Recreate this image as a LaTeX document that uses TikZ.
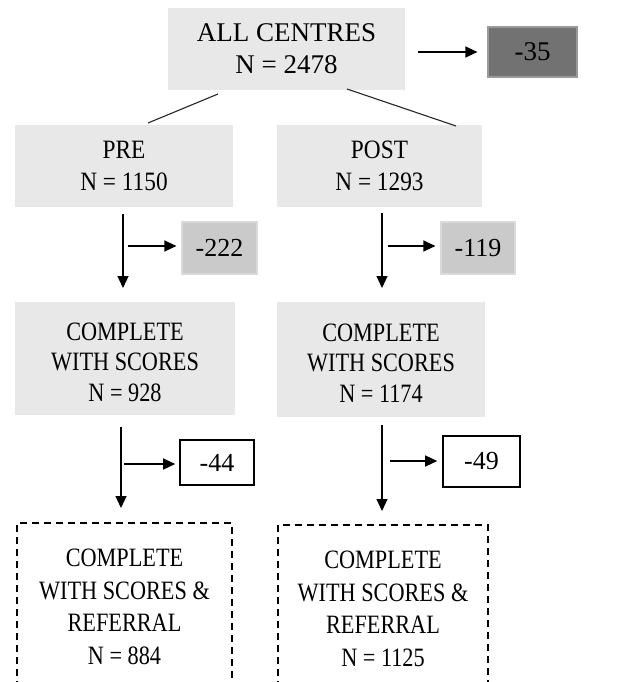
\documentclass[tikz,border=0pt]{standalone}
\usepackage{fontspec}
\setmainfont{Liberation Serif}
\newfontfamily\condtwo[FakeStretch=0.88]{Liberation Serif}
\newfontfamily\condthree[FakeStretch=0.84]{Liberation Serif}
\usetikzlibrary{arrows.meta,calc}
\definecolor{boxgrey}{HTML}{E8E8E8}
\definecolor{darkbox}{HTML}{727272}
\definecolor{darkedge}{HTML}{9A9A9A}
\definecolor{midbox}{HTML}{CACACA}
\definecolor{midedge}{HTML}{DADADA}
\tikzset{
  x=1pt,y=-1pt,
  txt/.style={font=\fontsize{27}{32}\selectfont, align=center, inner sep=0pt, text=black},
  rowtwo/.style={font=\condtwo\fontsize{26.5}{32}\selectfont},
  rowthree/.style={font=\condthree\fontsize{26.5}{30.5}\selectfont},
  rowfour/.style={font=\condthree\fontsize{26.5}{32.5}\selectfont},
  numtxt/.style={font=\fontsize{26}{30}\selectfont},
  greybox/.style={txt, fill=boxgrey, draw=none},
  darkgrey/.style={txt, fill=darkbox, draw=darkedge, line width=1.2pt},
  midgrey/.style={txt, numtxt, fill=midbox, draw=midedge, line width=1.2pt},
  whitebox/.style={txt, numtxt, fill=white, draw=black, line width=1.6pt},
  dashbox/.style={draw=black, line width=1.6pt, dash pattern=on 7pt off 5pt},
  arr/.style={line width=1.3pt, -{Triangle[length=12pt,width=11pt]}},
  thin/.style={line width=1.1pt, draw=black!85},
}
\begin{document}
\begin{tikzpicture}
\useasboundingbox (0,0) rectangle (627,682);
\clip (0,0) rectangle (627,682);
\fill[white] (0,0) rectangle (627,682);

% top
\node[greybox, minimum width=237pt, minimum height=82pt] (all) at (286.5,49) {ALL CENTRES\\N = 2478};
\node[darkgrey, minimum width=89pt, minimum height=50pt] (m35) at (532.5,52) {-35};
\coordinate (a35) at (418,52);
\draw[arr] (a35) -- ($(a35 -| m35.west)+(-10,0)$);

% second row
\node[greybox, rowtwo, minimum width=218pt, minimum height=82pt] (pre) at (124,166) {PRE\\N = 1150};
\node[greybox, rowtwo, minimum width=205pt, minimum height=82pt] (post) at (379.5,166) {POST\\N = 1293};
\coordinate (l1) at (218,94);
\coordinate (l2) at (148,123);
\coordinate (r1) at (347,89);
\coordinate (r2) at (456,126);
\draw[thin] (l1) -- (l2);
\draw[thin] (r1) -- (r2);

\node[midgrey, minimum width=75pt, minimum height=52pt] (m222) at (219.5,248) {-222};
\node[midgrey, minimum width=74pt, minimum height=52pt] (m119) at (478,248) {-119};

% third row
\node[greybox, minimum width=220pt, minimum height=113pt] (cpre) at (125,358.5) {};
\node[greybox, minimum width=208pt, minimum height=115pt] (cpost) at (381,359.5) {};
\node[txt, rowthree] (tcpre) at (125,362) {COMPLETE\\WITH SCORES\\N = 928};
\node[txt, rowthree] (tcpost) at (381,363) {COMPLETE\\WITH SCORES\\N = 1174};

% down arrows from second row
\coordinate (d1s) at (123,214);
\coordinate (d1e) at (123,288);
\coordinate (s1) at (128,246);
\draw[arr] (d1s) -- (d1e);
\draw[arr] (s1) -- ($(s1 -| m222.west)+(-5,0)$);
\coordinate (d2s) at (382,213);
\coordinate (d2e) at (382,288);
\coordinate (s2) at (388,246);
\draw[arr] (d2s) -- (d2e);
\draw[arr] (s2) -- ($(s2 -| m119.west)+(-5,0)$);

% white boxes
\node[whitebox, minimum width=74pt, minimum height=45pt] (m44) at (217,462.5) {-44};
\node[whitebox, minimum width=77pt, minimum height=51pt] (m49) at (481.5,461.5) {-49};

\coordinate (d3s) at (121,427);
\coordinate (d3e) at (121,508);
\coordinate (s3) at (124,464);
\draw[arr] (d3s) -- (d3e);
\draw[arr] (s3) -- ($(s3 -| m44.west)+(-4,0)$);
\coordinate (d4s) at (382,425);
\coordinate (d4e) at (382,511);
\coordinate (s4) at (390,461);
\draw[arr] (d4s) -- (d4e);
\draw[arr] (s4) -- ($(s4 -| m49.west)+(-5,0)$);

% dashed boxes (cut off at bottom)
\draw[dashbox] (17,700) -- (17,523) -- (232,523) -- (232,700);
\draw[dashbox] (278,700) -- (278,525) -- (488,525) -- (488,700);
\node[txt, rowfour] (fpre) at (124.5,607) {COMPLETE\\WITH SCORES \&\\REFERRAL\\N = 884};
\node[txt, rowfour] (fpost) at (383,609) {COMPLETE\\WITH SCORES \&\\REFERRAL\\N = 1125};
\end{tikzpicture}
\end{document}
